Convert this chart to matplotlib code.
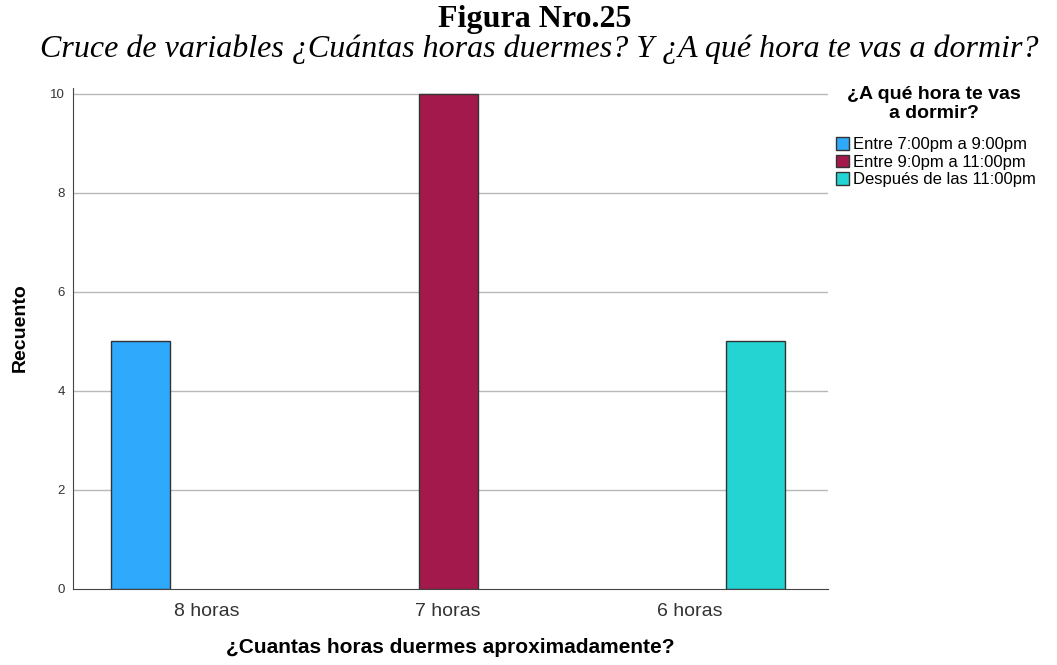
import numpy as np
import matplotlib
matplotlib.use('Agg')
import matplotlib.pyplot as plt

# Data
groups = ['8 horas', '7 horas', '6 horas']
series_names = ['Entre 7:00pm a 9:00pm', 'Entre 9:0pm a 11:00pm', 'Después de las 11:00pm']
counts_7_9 = [5, 0, 0]
counts_9_11 = [0, 10, 0]
counts_after_11 = [0, 0, 5]
colors = ['#2ea9fb', '#a3194b', '#23d4d2']

plt.rcParams['font.family'] = ['Liberation Sans', 'DejaVu Sans']

fig = plt.figure(figsize=(10.57, 6.65), dpi=100)
ax = fig.add_axes([0.069, 0.1143, 0.714, 0.7534])

x = np.arange(len(groups))
width = 0.245
step = 0.274
handles = []
for i, (vals, name, col) in enumerate(zip([counts_7_9, counts_9_11, counts_after_11], series_names, colors)):
    vals = np.array(vals, dtype=float)
    keep = vals > 0  # SPSS draws nothing for empty cells
    b = ax.bar(x[keep] + (i - 1) * step, vals[keep], width, color=col,
               edgecolor='#333333', linewidth=1, label=name, zorder=3)
    handles.append(b)

ax.set_xlim(-0.556, 2.573)
ax.set_ylim(0, 10.12)
ax.set_yticks([0, 2, 4, 6, 8, 10])
ax.set_xticks(x)
ax.set_xticklabels(groups, fontsize=14, color='#333333')
ax.tick_params(axis='y', length=0, labelsize=9.5, pad=6, colors='#333333')
ax.tick_params(axis='x', length=0, pad=10)
ax.yaxis.grid(True, color='#b8b8b8', linewidth=1, zorder=0)
ax.get_ygridlines()[0].set_visible(False)
ax.spines['top'].set_visible(False)
ax.spines['right'].set_visible(False)
ax.spines['left'].set_color('#444444')
ax.spines['bottom'].set_color('#444444')

ax.set_ylabel('Recuento', fontsize=14, fontweight='bold', va='center')
ax.yaxis.set_label_coords(-0.07, 0.521)
ax.set_xlabel('¿Cuantas horas duermes aproximadamente?', fontsize=15,
              fontweight='bold', va='center')
ax.xaxis.set_label_coords(0.5, -0.1158)

# legend title drawn separately, centred over the entries
fig.text(934 / 1057, 1 - 104 / 665, '¿A qué hora te vas\na dormir?', ha='center',
         va='center', fontsize=14, fontweight='bold', linespacing=1.1)
ax.legend(handles=handles, loc='upper left', bbox_to_anchor=(0.791, 1 - 137 / 665),
          bbox_transform=fig.transFigure, frameon=False, fontsize=12,
          handlelength=0.8, handleheight=0.8, handletextpad=0.2,
          labelspacing=0.15, borderpad=0, borderaxespad=0)

fig.text(0.506, 1 - 19 / 665, 'Figura Nro.25', ha='center', va='center',
         family='Liberation Serif', fontweight='bold', fontsize=23)
fig.text(0.51, 1 - 49 / 665, 'Cruce de variables ¿Cuántas horas duermes? Y ¿A qué hora te vas a dormir?',
         ha='center', va='center', family='Liberation Serif', style='italic', fontsize=23)

fig.savefig('out.png', dpi=100)
